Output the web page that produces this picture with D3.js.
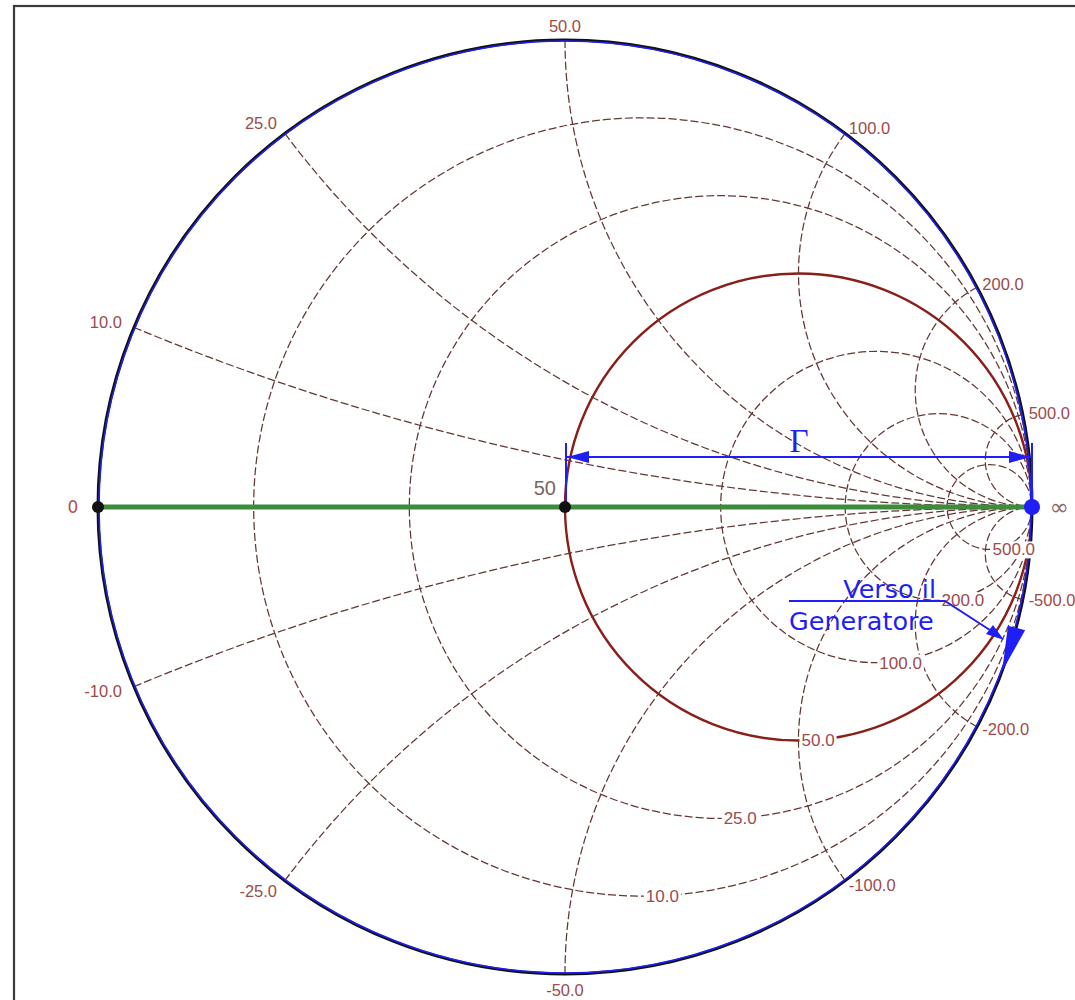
<!DOCTYPE html>
<html>
<head>
<meta charset="utf-8">
<script src="https://cdn.jsdelivr.net/npm/d3@7"></script>
<style>
  html, body { margin: 0; padding: 0; background: #ffffff; }
  svg { display: block; }
</style>
</head>
<body>
<svg id="chart" width="1075" height="1000"></svg>
<script>
// Smith chart, reference impedance 50 ohm
const z0 = 50;
const resistanceValues = [10, 25, 50, 100, 200, 500];      // constant-R circles (ohm)
const reactanceValues = [10, 25, 50, 100, 200, 500, -10, -25, -50, -100, -200, -500]; // constant-X arcs (ohm)
const highlightedResistance = 50;                            // the matched circle, drawn solid
const axisEndLabels = [{ gamma: -1, text: "0" }, { gamma: 1, text: "\u221E" }];
const markedPoints = [{ gamma: -1, kind: "short" }, { gamma: 0, kind: "match" }, { gamma: 1, kind: "open" }];
const matchLabel = "50";
const gammaLabel = "\u0393";
const directionLabel = ["Verso il", "Generatore"];

const svg = d3.select("#chart");
const cx = 565, cy = 507, R = 467;

// reflection-coefficient plane -> pixels
const x = d3.scaleLinear().domain([-1, 1]).range([cx - R, cx + R]);
const y = d3.scaleLinear().domain([-1, 1]).range([cy + R, cy - R]);
const len = v => x(v) - x(0);

const gridColor = "#643732";
const labelColor = "#9c4b4b";
const blue = "#1f1ff5";
const labelFont = "'Liberation Sans Narrow', 'Arial Narrow', sans-serif";
const fmt = v => (v < 0 ? "-" : "") + Math.abs(v).toFixed(1);

// outer frame
svg.append("rect")
  .attr("x", 14).attr("y", 6).attr("width", 1100).attr("height", 1100)
  .attr("fill", "#ffffff").attr("stroke", "#3a3a3a").attr("stroke-width", 2.2);

const grid = svg.append("g");

// constant-resistance circles
resistanceValues.forEach(rv => {
  const r = rv / z0;
  const isMain = rv === highlightedResistance;
  grid.append("circle")
    .attr("cx", x(r / (1 + r))).attr("cy", y(0))
    .attr("r", len(1 / (1 + r)))
    .attr("fill", "none")
    .attr("stroke", isMain ? "#8a1f1a" : gridColor)
    .attr("stroke-width", isMain ? 2.4 : 1.25)
    .attr("stroke-dasharray", isMain ? null : "8,3");
});

// constant-reactance arcs from the rim to the open-circuit point
function reactanceEnd(xn) {
  const d = xn * xn + 1;
  return [(xn * xn - 1) / d, 2 * xn / d];
}
reactanceValues.forEach(xv => {
  const xn = xv / z0;
  const [ex, ey] = reactanceEnd(xn);
  const rr = len(1 / Math.abs(xn));
  const sweep = xn > 0 ? 0 : 1;
  grid.append("path")
    .attr("d", `M${x(ex)},${y(ey)} A${rr},${rr} 0 0 ${sweep} ${x(1)},${y(0)}`)
    .attr("fill", "none")
    .attr("stroke", gridColor)
    .attr("stroke-width", 1.25)
    .attr("stroke-dasharray", "8,3");
});

// rim of the chart
svg.append("circle").attr("cx", x(0)).attr("cy", y(0)).attr("r", len(1))
  .attr("fill", "none").attr("stroke", "#111111").attr("stroke-width", 3);
svg.append("circle").attr("cx", x(0)).attr("cy", y(0)).attr("r", len(1) - 1)
  .attr("fill", "none").attr("stroke", blue).attr("stroke-width", 1.6);

// resistance labels at the lowest point of each circle, on a white box
const rLabels = svg.append("g");
resistanceValues.forEach(rv => {
  const r = rv / z0;
  const px = x(r / (1 + r)) + 3, py = y(-1 / (1 + r));
  const t = rLabels.append("text")
    .attr("x", px).attr("y", py)
    .attr("dy", "0.35em")
    .attr("font-family", labelFont).attr("font-size", 17)
    .attr("fill", labelColor)
    .text(fmt(rv));
  const bb = t.node().getBBox();
  rLabels.insert("rect", "text:last-child")
    .attr("x", bb.x - 2).attr("y", bb.y + 1)
    .attr("width", bb.width + 4).attr("height", bb.height - 2)
    .attr("fill", "#ffffff");
});

// reactance labels outside the rim
const xLabels = svg.append("g");
reactanceValues.forEach(xv => {
  const xn = xv / z0;
  const [ex, ey] = reactanceEnd(xn);
  const centred = Math.abs(ex) < 0.05;
  const off = 1 + (centred ? 13 : (ex < 0 ? 13 : 6)) / R;
  const anchor = centred ? "middle" : (ex < 0 ? "end" : "start");
  const t = xLabels.append("text")
    .attr("x", x(ex * off)).attr("y", y(ey * off) + (centred ? (ey > 0 ? -1 : 3) : 0))
    .attr("dy", "0.35em")
    .attr("text-anchor", anchor)
    .attr("font-family", labelFont).attr("font-size", 16.5)
    .attr("fill", labelColor)
    .text(fmt(xv));
  if (centred) {
    const bb = t.node().getBBox();
    xLabels.insert("rect", "text:last-child")
      .attr("x", bb.x - 2).attr("y", bb.y).attr("width", bb.width + 4).attr("height", bb.height)
      .attr("fill", "#ffffff");
  }
});

// real axis
svg.append("line")
  .attr("x1", x(-1)).attr("y1", y(0)).attr("x2", x(0.985)).attr("y2", y(0))
  .attr("stroke", "#3c8c3c").attr("stroke-width", 5);

// end labels of the real axis
svg.append("text").attr("x", x(-1) - 25).attr("y", y(0)).attr("dy", "0.35em")
  .attr("text-anchor", "middle").attr("font-family", "'DejaVu Sans', sans-serif")
  .attr("font-size", 17).attr("fill", "#b05252").text(axisEndLabels[0].text);
svg.append("text").attr("x", x(1) + 27).attr("y", y(0)).attr("dy", "0.33em")
  .attr("text-anchor", "middle").attr("font-family", "'DejaVu Sans', sans-serif")
  .attr("font-size", 23).attr("fill", "#8a6a6a").text(axisEndLabels[1].text);

// Gamma dimension: from the matched point to the open-circuit point
const dimY = y(0) - 50;
const dim = svg.append("g").attr("stroke", blue).attr("stroke-width", 2);
dim.append("line").attr("x1", x(0) + 1).attr("y1", dimY - 14).attr("x2", x(0) + 1).attr("y2", y(0));
dim.append("line").attr("x1", x(1)).attr("y1", dimY - 14).attr("x2", x(1)).attr("y2", y(0));
dim.append("line").attr("x1", x(0) + 1).attr("y1", dimY).attr("x2", x(1)).attr("y2", dimY);
svg.append("path")
  .attr("d", `M${x(0) + 2},${dimY} l22,-6 l0,12 z`).attr("fill", blue);
svg.append("path")
  .attr("d", `M${x(1) - 1},${dimY} l-22,-6 l0,12 z`).attr("fill", blue);
svg.append("text")
  .attr("x", 799).attr("y", dimY - 5)
  .attr("text-anchor", "middle")
  .attr("font-family", "'Liberation Serif', 'DejaVu Serif', serif")
  .attr("font-size", 33).attr("fill", blue).text(gammaLabel);

// marked points
markedPoints.forEach(p => {
  svg.append("circle")
    .attr("cx", x(p.gamma)).attr("cy", y(0))
    .attr("r", p.kind === "open" ? 8 : 6)
    .attr("fill", p.kind === "open" ? blue : "#111111");
});

svg.append("text")
  .attr("x", x(0) - 9).attr("y", y(0) - 12)
  .attr("text-anchor", "end")
  .attr("font-family", "'Liberation Sans', Arial, sans-serif")
  .attr("font-size", 20).attr("fill", "#7d6565").text(matchLabel);

// direction of rotation toward the generator
svg.append("text")
  .attr("x", 936).attr("y", 598).attr("text-anchor", "end")
  .attr("font-family", "'DejaVu Sans', sans-serif")
  .attr("font-size", 25.5).attr("fill", blue).text(directionLabel[0]);
svg.append("text")
  .attr("x", 789).attr("y", 630)
  .attr("font-family", "'DejaVu Sans', sans-serif")
  .attr("font-size", 25.5).attr("fill", blue).text(directionLabel[1]);
svg.append("polyline")
  .attr("points", "789,601 945,601 996,634")
  .attr("fill", "none").attr("stroke", blue).attr("stroke-width", 2);
svg.append("path")
  .attr("d", "M1004,640 L986,634 L993,625 Z").attr("fill", blue);

// arrowhead on the rim, pointing clockwise
const toPx = (rad, deg) => {
  const a = deg * Math.PI / 180;
  return [x(rad * Math.cos(a)), y(rad * Math.sin(a))];
};
const tri = [toPx(0.982, -15), toPx(1.02, -15), toPx(1.0, -20.6)];
svg.append("path")
  .attr("d", "M" + tri.map(p => p.join(",")).join("L") + "Z")
  .attr("fill", blue);
</script>
</body>
</html>
